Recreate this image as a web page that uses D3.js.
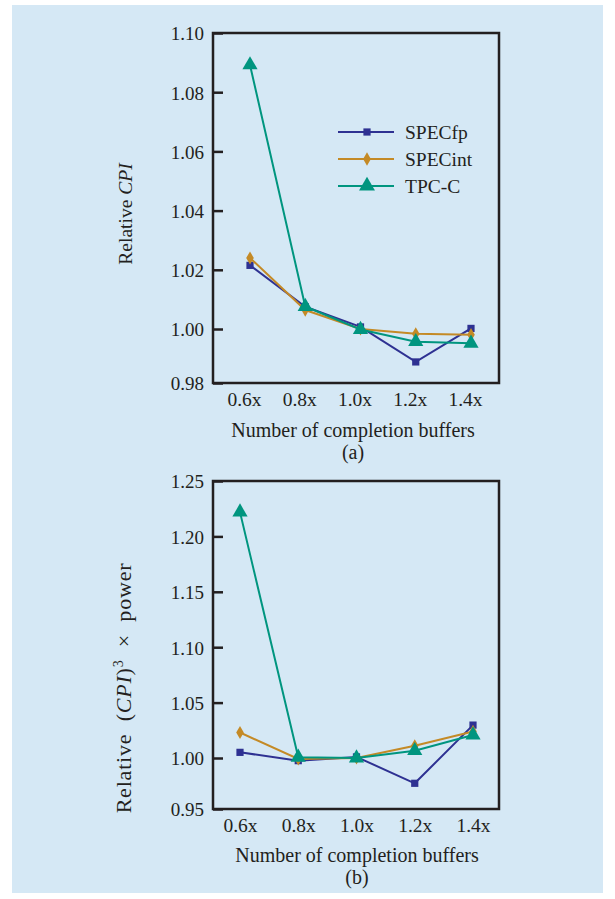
<!DOCTYPE html>
<html>
<head>
<meta charset="utf-8">
<script src="https://cdn.jsdelivr.net/npm/d3@7"></script>
<style>
  html, body { margin: 0; padding: 0; background: #ffffff; }
  svg { display: block; }
  text { font-family: "Liberation Serif", "Times New Roman", serif; fill: #231f20; }
</style>
</head>
<body>
<svg id="chart" width="615" height="899"></svg>
<script>
// ---- data ----
const categories = ["0.6x", "0.8x", "1.0x", "1.2x", "1.4x"];
const seriesNames = ["SPECfp", "SPECint", "TPC-C"];

// (a) Relative CPI
const cpiSPECfp  = [1.0215, 1.0075, 1.0007, 0.9878, 1.0002];
const cpiSPECint = [1.0240, 1.0064, 1.0000, 0.9982, 0.9979];
const cpiTPCC    = [1.0892, 1.0076, 0.9998, 0.9953, 0.9947];
const cpiTicks   = [0.98, 1.00, 1.02, 1.04, 1.06, 1.08, 1.10];

// (b) Relative CPI^3 x power
const powSPECfp  = [1.0051, 0.9974, 1.0010, 0.9752, 1.0297];
const powSPECint = [1.0230, 0.9990, 1.0000, 1.0110, 1.0240];
const powTPCC    = [1.2219, 1.0006, 1.0000, 1.0066, 1.0207];
const powTicks   = [0.95, 1.00, 1.05, 1.10, 1.15, 1.20, 1.25];

const colors = { "SPECfp": "#2e3192", "SPECint": "#c48a26", "TPC-C": "#00957f" };
const shapes = { "SPECfp": d3.symbolSquare, "SPECint": d3.symbolDiamond, "TPC-C": d3.symbolTriangle };
const sizes  = { "SPECfp": 52, "SPECint": 50, "TPC-C": 100 };

const svg = d3.select("#chart");
svg.append("rect").attr("x", 12).attr("y", 5).attr("width", 591).attr("height", 888).attr("fill", "#d5e8f5");

function panel(opts) {
  const g = svg.append("g");
  const { x0, x1, y0, y1 } = opts;
  const x = d3.scalePoint().domain(categories).range(opts.xr);
  const t = opts.ticks;
  // the printed axis has a slightly shorter bottom interval; mirror it
  const y = d3.scaleLinear().domain([t[0], t[1], t[t.length - 1]]).range([y1, opts.yOne, y0]);

  const ya = g.append("g").attr("transform", `translate(${x0},0)`)
    .call(d3.axisLeft(y).tickValues(t).tickFormat(d3.format(".2f")).tickSizeInner(-10).tickSizeOuter(0).tickPadding(9));
  ya.select(".domain").remove();
  ya.selectAll(".tick line").attr("stroke", "#231f20").attr("stroke-width", 2.5);
  ya.selectAll(".tick text").attr("font-size", 19).attr("font-family", "Liberation Serif").attr("fill", "#231f20").attr("dy", "0.36em");

  const xa = g.append("g").attr("transform", `translate(0,${y1})`)
    .call(d3.axisBottom(x).tickSize(0).tickPadding(0));
  xa.select(".domain").remove();
  xa.selectAll(".tick text").attr("font-size", 19.5).attr("font-family", "Liberation Serif").attr("fill", "#231f20")
    .attr("dy", null).attr("y", opts.xLabelDy).attr("dx", opts.xLabelDx);

  g.append("rect").attr("x", x0).attr("y", y0).attr("width", x1 - x0).attr("height", y1 - y0)
    .attr("fill", "none").attr("stroke", "#231f20").attr("stroke-width", 2.5);

  const line = d3.line().x((d, i) => x(categories[i])).y(d => y(d));
  opts.series.forEach(([name, vals]) => {
    g.append("path").datum(vals).attr("d", line).attr("fill", "none")
      .attr("stroke", colors[name]).attr("stroke-width", 2);
    g.selectAll(null).data(vals).enter().append("path")
      .attr("transform", (d, i) => `translate(${x(categories[i])},${y(d)})`)
      .attr("d", d3.symbol().type(shapes[name]).size(sizes[name]))
      .attr("fill", colors[name]);
  });

  const tt = g.append("text").attr("transform", `translate(${opts.yTitleX},${opts.yTitleY}) rotate(-90)`)
    .attr("text-anchor", "middle");
  opts.yTitle(tt);

  g.append("text").attr("x", opts.xTitleX).attr("y", opts.xTitleY).attr("text-anchor", "middle")
    .attr("font-size", 20).text("Number of completion buffers");
  g.append("text").attr("x", opts.xTitleX).attr("y", opts.xTitleY + 22).attr("text-anchor", "middle")
    .attr("font-size", 20).text(opts.sub);
  return { g, x, y };
}

const a = panel({
  x0: 213, x1: 499, y0: 33, y1: 383, yOne: 329, xr: [250, 471], ticks: cpiTicks,
  xLabelDy: 23, xLabelDx: -6,
  series: [["SPECfp", cpiSPECfp], ["SPECint", cpiSPECint], ["TPC-C", cpiTPCC]],
  yTitleX: 132, yTitleY: 214,
  yTitle: t => {
    t.attr("font-size", 19.5);
    t.append("tspan").text("Relative ");
    t.append("tspan").attr("font-style", "italic").text("CPI");
  },
  xTitleX: 353, xTitleY: 437, sub: "(a)"
});

const lg = a.g.append("g");
seriesNames.forEach((name, i) => {
  const yy = 132 + i * 27;
  lg.append("line").attr("x1", 338).attr("x2", 394).attr("y1", yy).attr("y2", yy)
    .attr("stroke", colors[name]).attr("stroke-width", 2);
  lg.append("path").attr("transform", `translate(367,${yy})`)
    .attr("d", d3.symbol().type(shapes[name]).size(name === "TPC-C" ? 110 : 52)).attr("fill", colors[name]);
  lg.append("text").attr("x", 405).attr("y", yy).attr("dy", "0.35em").attr("font-size", 19.5).text(name);
});

panel({
  x0: 213, x1: 499, y0: 481, y1: 809, yOne: 758, xr: [240, 473], ticks: powTicks,
  xLabelDy: 23, xLabelDx: 0,
  series: [["SPECfp", powSPECfp], ["SPECint", powSPECint], ["TPC-C", powTPCC]],
  yTitleX: 131, yTitleY: 688,
  yTitle: t => {
    t.attr("font-size", 22).attr("word-spacing", 6).attr("letter-spacing", 0.8);
    t.append("tspan").text("Relative (");
    t.append("tspan").attr("font-style", "italic").text("CPI");
    t.append("tspan").text(")");
    t.append("tspan").attr("font-size", 14).attr("dy", -8).text("3");
    t.append("tspan").attr("dy", 8).text(" \u00d7 power");
  },
  xTitleX: 357, xTitleY: 862, sub: "(b)"
});
</script>
</body>
</html>
